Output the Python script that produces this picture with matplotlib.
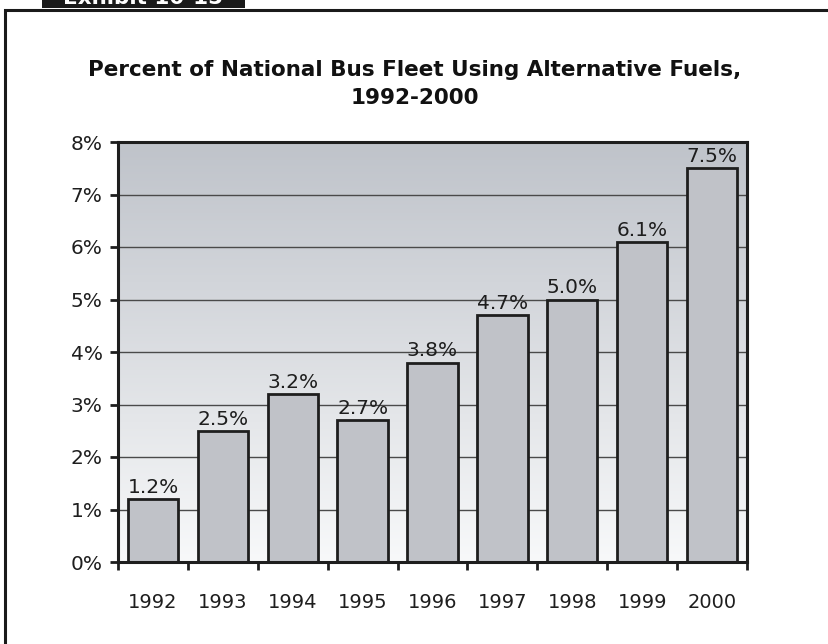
import numpy as np
import matplotlib
matplotlib.use("Agg")
import matplotlib.pyplot as plt
from matplotlib.patches import Rectangle
from matplotlib.colors import LinearSegmentedColormap

years = ["1992", "1993", "1994", "1995", "1996", "1997", "1998", "1999", "2000"]
share_pct = [1.2, 2.5, 3.2, 2.7, 3.8, 4.7, 5.0, 6.1, 7.5]
value_labels = ["1.2%", "2.5%", "3.2%", "2.7%", "3.8%", "4.7%", "5.0%", "6.1%", "7.5%"]
y_ticks = [0, 1, 2, 3, 4, 5, 6, 7, 8]
y_tick_labels = ["0%", "1%", "2%", "3%", "4%", "5%", "6%", "7%", "8%"]

title = "Percent of National Bus Fleet Using Alternative Fuels,\n1992-2000"
exhibit = "Exhibit 10-15"

W, H = 829, 644
fig = plt.figure(figsize=(W / 100, H / 100), dpi=100)
fig.patch.set_facecolor("white")

# outer frame and header tab
fig.patches.append(Rectangle((5 / W, -0.1), 1.2, 1 - 10 / H + 0.1, transform=fig.transFigure,
                             fill=False, edgecolor="#1a1a1a", linewidth=2.2))
fig.patches.append(Rectangle((42 / W, 1 - 7.5 / H), 203 / W, 0.1, transform=fig.transFigure,
                             facecolor="#1a1a1a", edgecolor="none"))
fig.text(143 / W, 1 - 4 / H, exhibit, color="white", fontsize=15.5, fontweight="bold",
         ha="center", va="baseline")

fig.text(0.5, 1 - 84 / H, title, ha="center", va="center", fontsize=15.5,
         fontweight="bold", color="#111111", linespacing=1.5)

ax = fig.add_axes([118 / W, 1 - 562 / H, (747 - 118) / W, (562 - 142) / H])
n = len(years)
x = np.arange(n)
ax.set_xlim(-0.5, n - 0.5)
ax.set_ylim(0, 8)

# vertical gradient background
cmap = LinearSegmentedColormap.from_list("bg", ["#f8f9fa", "#bfc3ca"])
grad = np.linspace(0, 1, 256).reshape(-1, 1)
ax.imshow(grad, cmap=cmap, aspect="auto", extent=(-0.5, n - 0.5, 0, 8),
          origin="lower", zorder=0)

for yv in y_ticks[1:-1]:
    ax.axhline(yv, color="#4a4a4a", linewidth=1.0, zorder=1)

bars = ax.bar(x, share_pct, width=0.72, color="#c0c2c8", edgecolor="#1e1e1e",
              linewidth=2.0, zorder=2)
for rect, lab in zip(bars, value_labels):
    ax.annotate(lab, (rect.get_x() + rect.get_width() / 2, rect.get_height()),
                xytext=(0, 1.5), textcoords="offset points", ha="center", va="bottom",
                fontsize=14.5, color="#1e1e1e", zorder=3)

ax.set_yticks(y_ticks)
ax.set_yticklabels(y_tick_labels)
ax.set_xticks(x)
ax.set_xticklabels(years)
ax.set_xticks(np.arange(n + 1) - 0.5, minor=True)
ax.tick_params(axis="x", which="major", length=0, pad=22, labelsize=14, colors="#1e1e1e")
ax.tick_params(axis="x", which="minor", length=6, width=2, direction="out", color="#1e1e1e")
ax.tick_params(axis="y", length=6, width=2, direction="out", pad=5, labelsize=14.5,
               colors="#1e1e1e")

for side in ax.spines.values():
    side.set_linewidth(2.2)
    side.set_color("#1e1e1e")
    side.set_zorder(4)

fig.savefig("out.png", dpi=100, facecolor="white")
